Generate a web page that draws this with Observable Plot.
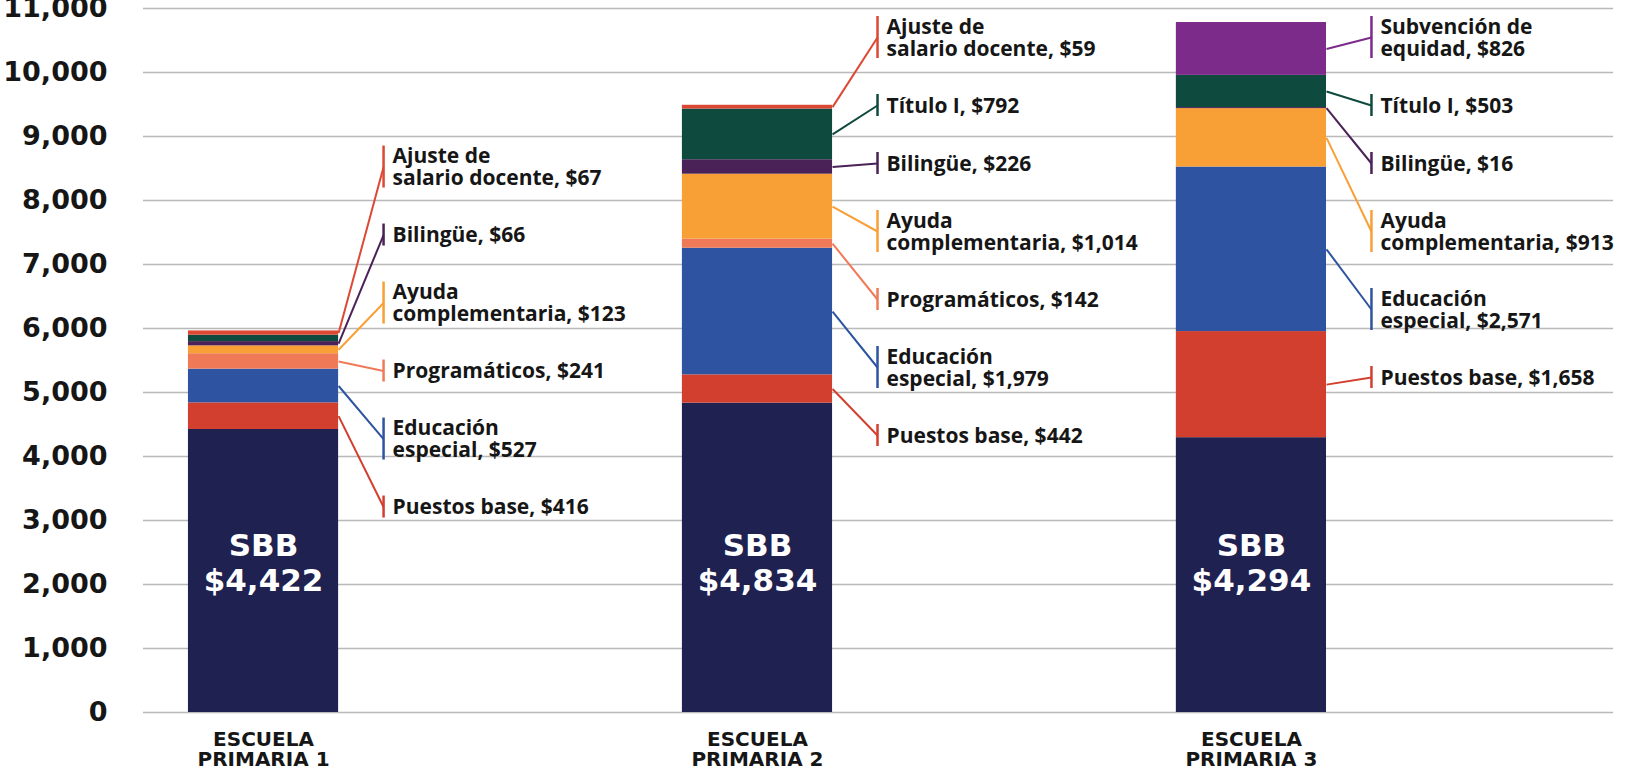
<!DOCTYPE html>
<html>
<head>
<meta charset="utf-8">
<script src="https://cdn.jsdelivr.net/npm/d3@7"></script>
<script src="https://cdn.jsdelivr.net/npm/@observablehq/plot@0.6"></script>
<style>
  html, body { margin: 0; padding: 0; background: #ffffff; }
  #chart svg { display: block; overflow: visible; }
</style>
</head>
<body>
<div id="chart"></div>
<script>
// ---------------- data ----------------
const schools = ["ESCUELA\nPRIMARIA 1", "ESCUELA\nPRIMARIA 2", "ESCUELA\nPRIMARIA 3"];
const categories = ["SBB", "Puestos base", "Educación especial", "Programáticos",
  "Ayuda complementaria", "Bilingüe", "Título I", "Ajuste de salario docente", "Subvención de equidad"];
const labelNames = ["SBB", "Puestos base", "Educación\nespecial", "Programáticos",
  "Ayuda\ncomplementaria", "Bilingüe", "Título I", "Ajuste de\nsalario docente", "Subvención de\nequidad"];
const categoryColors = ["#1f2150", "#d23f2f", "#2e53a0", "#f07a57",
  "#f89f36", "#4a2258", "#0e4a3e", "#dc4833", "#7c2b8a"];
// values per school, in category order (0 = not present)
const school1Values = [4422, 416, 527, 241, 123, 66, 100, 67, 0];
const school2Values = [4834, 442, 1979, 142, 1014, 226, 792, 59, 0];
const school3Values = [4294, 1658, 2571, 0, 913, 16, 503, 0, 826];
const unlabeled = [{school: 0, category: "Título I"}];
const yTicks = d3.range(0, 11001, 1000);

// ---------------- layout ----------------
const W = 1632, H = 774, MT = 8, MB = 62, ML = 143, MR = 19;
const yMax = 11000;
const k = (H - MT - MB) / yMax;          // px per unit
const xDomain = [-0.243, 2.733];           // school index units
const barHalf = 0.152;                     // half bar width (index units)
const leaderRun = 0.091;                   // connector horizontal run (index units)
const labelPad = 36, labelLift = 28, topGap = 8;

const fmt = d3.format(",");
const allValues = [school1Values, school2Values, school3Values];

// stacked segments
const segments = [];
allValues.forEach((vals, i) => {
  let acc = 0;
  vals.forEach((v, c) => {
    if (!v) return;
    segments.push({i, school: schools[i], category: categories[c], c, value: v, y1: acc, y2: acc + v});
    acc += v;
  });
});

const py = v => MT + (yMax - v) * k;
const pv = p => yMax - (p - MT) / k;

// label layout per school
const labels = [];
[0, 1, 2].forEach(i => {
  const items = segments
    .filter(s => s.i === i && s.category !== "SBB" &&
      !unlabeled.some(u => u.school === i && u.category === s.category))
    .map(s => {
      const name = labelNames[s.c];
      const lines = name.split("\n").length;
      return {...s, text: `${name}, $${fmt(s.value)}`, half: lines === 2 ? 21 : 11,
              ideal: py((s.y1 + s.y2) / 2), mid: (s.y1 + s.y2) / 2};
    })
    .sort((a, b) => a.ideal - b.ideal);
  const gap = (a, b) => a.half + b.half + labelPad;
  const place = g => {
    g.off = [0];
    for (let j = 1; j < g.items.length; j++) g.off.push(g.off[j - 1] + gap(g.items[j - 1], g.items[j]));
    g.base = d3.mean(g.items, (it, j) => it.ideal - g.off[j]) - labelLift;
  };
  const groups = [];
  items.forEach(it => {
    const g = {items: [it]}; place(g); groups.push(g);
    while (groups.length > 1) {
      const last = groups[groups.length - 1], prev = groups[groups.length - 2];
      const prevBottom = prev.base + prev.off[prev.off.length - 1];
      if (last.base < prevBottom + gap(prev.items[prev.items.length - 1], last.items[0])) {
        groups.pop(); groups.pop();
        const m = {items: prev.items.concat(last.items)}; place(m); groups.push(m);
      } else break;
    }
  });
  const flat = [];
  groups.forEach(g => g.items.forEach((it, j) => flat.push({it, p: g.base + g.off[j]})));
  flat.forEach((f, j) => {
    if (j === 0) f.p = Math.max(f.p, MT + topGap + f.it.half);
    else f.p = Math.max(f.p, flat[j - 1].p + gap(flat[j - 1].it, f.it));
    labels.push({...f.it, ly: pv(f.p), lyTop: pv(f.p - f.it.half), lyBot: pv(f.p + f.it.half)});
  });
});

const sbb = segments.filter(s => s.category === "SBB");
const labelFont = "'Open Sans', 'DejaVu Sans', sans-serif";
const axisFont = "'DejaVu Sans', sans-serif";

const chart = Plot.plot({
  width: W, height: H,
  marginTop: MT, marginBottom: MB, marginLeft: ML, marginRight: MR,
  style: {fontFamily: labelFont, background: "#ffffff", overflow: "visible"},
  x: {type: "linear", domain: xDomain},
  y: {domain: [0, yMax]},
  color: {domain: categories, range: categoryColors},
  marks: [
    Plot.ruleY(yTicks, {stroke: "#b9b9b9", strokeWidth: 1.6}),
    Plot.rectY(segments, {
      x1: d => d.i - barHalf, x2: d => d.i + barHalf,
      y1: "y1", y2: "y2", fill: "category"
    }),
    Plot.link(labels, {
      x1: d => d.i + barHalf, y1: "mid",
      x2: d => d.i + barHalf + leaderRun, y2: "ly",
      stroke: "category", strokeWidth: 2
    }),
    Plot.ruleX(labels, {
      x: d => d.i + barHalf + leaderRun, y1: "lyBot", y2: "lyTop",
      stroke: "category", strokeWidth: 2.5
    }),
    Plot.text(labels, {
      x: d => d.i + barHalf + leaderRun, y: "ly", text: "text",
      dx: 9, textAnchor: "start", lineAnchor: "middle", lineHeight: 1.05,
      fontSize: 21, fontWeight: 700, fill: "#161616", fontFamily: labelFont
    }),
    Plot.text(sbb, {
      x: "i", frameAnchor: "bottom", dy: -150,
      text: d => `SBB\n$${fmt(d.value)}`,
      lineAnchor: "middle", lineHeight: 1.12,
      fontSize: 31, fontWeight: 700, fill: "#ffffff", fontFamily: axisFont
    }),
    Plot.axisY({
      ticks: yTicks, tickFormat: d => fmt(d), tickSize: 0, tickPadding: 36, label: null,
      fontSize: 27, fontWeight: 700, fill: "#161616", fontFamily: axisFont
    }),
    Plot.axisX({
      ticks: [0, 1, 2], tickFormat: i => schools[i], tickSize: 0, tickPadding: 19, label: null,
      fontSize: 20, fontWeight: 700, fill: "#161616", fontFamily: axisFont, lineHeight: 1.0
    })
  ]
});
document.getElementById("chart").appendChild(chart);
</script>
</body>
</html>
